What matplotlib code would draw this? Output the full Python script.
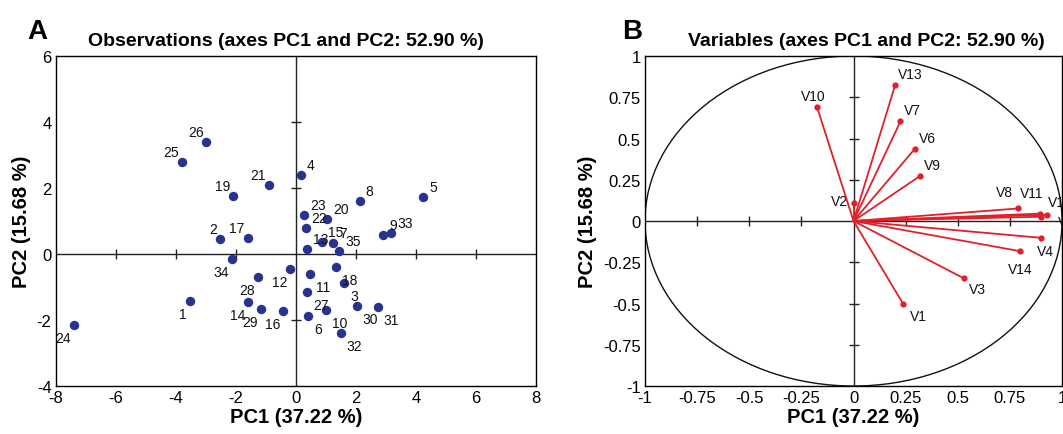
import matplotlib.pyplot as plt
import numpy as np
from matplotlib.patches import Ellipse
from matplotlib.ticker import FormatStrFormatter

plt.rcParams['font.family'] = ['Liberation Sans', 'DejaVu Sans']
plt.rcParams['axes.unicode_minus'] = False

# Observations (labels 1..35)
obs_labels = ['1', '2', '3', '4', '5', '6', '7', '8', '9', '10', '11', '12',
              '13', '14', '15', '16', '17', '18', '19', '20', '21', '22', '23',
              '24', '25', '26', '27', '28', '29', '30', '31', '32', '33', '34', '35']
obs_pc1 = [-3.53, -2.53, 1.60, 0.16, 4.24, 0.41, 1.24, 2.12, 2.91, 1.00, 0.47, -0.19,
           0.36, -1.59, 0.86, -0.42, -1.61, 1.33, -2.09, 1.04, -0.91, 0.32, 0.27,
           -7.40, -3.81, -2.98, 0.36, -1.26, -1.17, 2.02, 2.72, 1.49, 3.17, -2.13, 1.44]
obs_pc2 = [-1.41, 0.46, -0.88, 2.39, 1.73, -1.87, 0.33, 1.60, 0.58, -1.69, -0.61, -0.46,
           0.14, -1.46, 0.37, -1.73, 0.50, -0.39, 1.77, 1.06, 2.08, 0.79, 1.18,
           -2.14, 2.80, 3.38, -1.14, -0.71, -1.68, -1.57, -1.60, -2.40, 0.64, -0.16, 0.10]

# Variables (loadings)
var_names = ['V1', 'V2', 'V3', 'V4', 'V5', 'V6', 'V7', 'V8', 'V9', 'V10',
             'V11', 'V12', 'V13', 'V14']
var_pc1 = [0.237, 0.00, 0.53, 0.90, 0.90, 0.295, 0.225, 0.788, 0.32, -0.175,
           0.895, 0.93, 0.20, 0.80]
var_pc2 = [-0.50, 0.112, -0.348, -0.102, 0.026, 0.439, 0.604, 0.076, 0.274, 0.69,
           0.045, 0.038, 0.826, -0.183]

ticks_a_x = [-8, -6, -4, -2, 0, 2, 4, 6, 8]
ticks_a_y = [-4, -2, 0, 2, 4, 6]
ticks_b = [-1, -0.75, -0.5, -0.25, 0, 0.25, 0.5, 0.75, 1]

# label placement for the variable plot (pixels, ha, va)
var_label_pos = {
    'V1': (7, -5, 'left', 'top'), 'V2': (-5, 2, 'right', 'center'),
    'V3': (5, -4, 'left', 'top'), 'V4': (4, -6, 'center', 'top'),
    'V5': (17, -5, 'left', 'center'), 'V6': (4, 4, 'left', 'bottom'),
    'V7': (3, 4, 'left', 'bottom'), 'V8': (-5, 9, 'right', 'bottom'),
    'V9': (4, 4, 'left', 'bottom'), 'V10': (-4, 4, 'center', 'bottom'),
    'V11': (-8, 14, 'center', 'bottom'), 'V12': (0, 6, 'left', 'bottom'),
    'V13': (3, 4, 'left', 'bottom'), 'V14': (0, -11, 'center', 'top'),
}


def inner_axes(ax, xt, yt, xlen, ylen):
    ax.axhline(0, color='#222222', lw=1.0, zorder=1)
    ax.axvline(0, color='#222222', lw=1.0, zorder=1)
    xs = [t for t in xt if t != 0 and abs(t) != max(abs(v) for v in xt)]
    ys = [t for t in yt if t != 0 and t not in (min(yt), max(yt))]
    ax.plot(xs, [0] * len(xs), ls='none', marker='|', ms=xlen, color='#222222', mew=1.0, zorder=1)
    ax.plot([0] * len(ys), ys, ls='none', marker='_', ms=ylen, color='#222222', mew=1.0, zorder=1)


def style_frame(ax):
    for s in ax.spines.values():
        s.set_linewidth(1.0)
        s.set_color('black')
    ax.tick_params(length=0, labelsize=12, pad=3)


fig = plt.figure(figsize=(10.63, 4.35), dpi=100)

# Panel A
ax1 = fig.add_axes([0.0524, 0.1103, 0.4521, 0.7586])
ax1.set_xlim(-8, 8)
ax1.set_ylim(-4, 6)
ax1.set_xticks(ticks_a_x)
ax1.set_yticks(ticks_a_y)
style_frame(ax1)
inner_axes(ax1, ticks_a_x, ticks_a_y, 7, 7)
ax1.scatter(obs_pc1, obs_pc2, s=46, color='#28338E', zorder=3, linewidths=0)
for lab, x, y in zip(obs_labels, obs_pc1, obs_pc2):
    dx = 6 if x > 0 else -3
    dy = 3 if y > 0 else -6
    ax1.annotate(lab, (x, y), xytext=(dx, dy), textcoords='offset pixels',
                 ha='left' if x > 0 else 'right', va='bottom' if y > 0 else 'top',
                 fontsize=10, color='#111111')
ax1.set_xlabel('PC1 (37.22 %)', fontsize=14.5, fontweight='bold', labelpad=1)
ax1.set_ylabel('PC2 (15.68 %)', fontsize=14.5, fontweight='bold', labelpad=4)
ax1.set_title('Observations (axes PC1 and PC2: 52.90 %)', fontsize=14,
              fontweight='bold', pad=8, x=0.48)
fig.text(0.026, 0.91, 'A', fontsize=20, fontweight='bold')

# Panel B
ax2 = fig.add_axes([0.6068, 0.1103, 0.3923, 0.7586])
ax2.set_xlim(-1, 1)
ax2.set_ylim(-1, 1)
ax2.set_xticks(ticks_b)
ax2.set_yticks(ticks_b)
ax2.xaxis.set_major_formatter(FormatStrFormatter('%g'))
ax2.yaxis.set_major_formatter(FormatStrFormatter('%g'))
style_frame(ax2)
inner_axes(ax2, ticks_b, ticks_b, 7, 7)
ax2.add_patch(Ellipse((0, 0), 2, 2, fill=False, ec='#111111', lw=1.0, zorder=2))
for name, x, y in zip(var_names, var_pc1, var_pc2):
    ax2.plot([0, x], [0, y], color='#E0202A', lw=1.3, zorder=3)
    ax2.plot(x, y, 'o', color='#E0202A', ms=3.5, zorder=4)
    dx, dy, ha, va = var_label_pos[name]
    ax2.annotate(name, (x, y), xytext=(dx, dy), textcoords='offset pixels',
                 ha=ha, va=va, fontsize=10, color='#111111', annotation_clip=False)
ax2.set_xlabel('PC1 (37.22 %)', fontsize=14.5, fontweight='bold', labelpad=1)
ax2.set_ylabel('PC2 (15.68 %)', fontsize=14.5, fontweight='bold', labelpad=4)
ax2.set_title('Variables (axes PC1 and PC2: 52.90 %)', fontsize=14,
              fontweight='bold', pad=8, x=0.53)
fig.text(0.585, 0.91, 'B', fontsize=20, fontweight='bold')

fig.savefig('out.png', dpi=100)
